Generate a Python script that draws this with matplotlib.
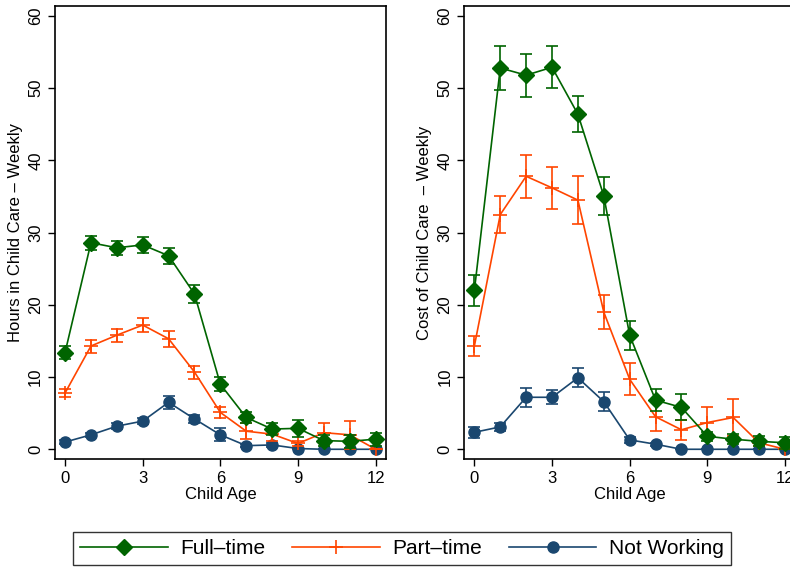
import matplotlib
matplotlib.use("Agg")
import matplotlib.pyplot as plt
from matplotlib.lines import Line2D

plt.rcParams['font.family'] = ['Liberation Sans', 'DejaVu Sans']

ages = list(range(13))

# Hours in child care, weekly (mean, ci half width)
hours_full = [13.4, 28.6, 27.9, 28.3, 26.8, 21.5, 9.0, 4.4, 2.8, 2.9, 1.2, 1.1, 1.4]
hours_full_err = [0.9, 1.0, 1.0, 1.1, 1.1, 1.2, 1.0, 0.8, 0.8, 1.2, 0.8, 0.9, 0.9]
hours_part = [7.8, 14.3, 15.8, 17.2, 15.3, 10.7, 5.1, 2.5, 2.1, 0.8, 2.3, 2.0, 0.0]
hours_part_err = [0.5, 0.9, 0.9, 1.0, 1.1, 0.9, 0.8, 1.1, 1.0, 0.4, 1.4, 1.9, 0.0]
hours_not = [1.0, 2.0, 3.2, 3.9, 6.5, 4.2, 2.0, 0.5, 0.6, 0.1, 0.0, 0.0, 0.0]
hours_not_err = [0.3, 0.3, 0.4, 0.4, 0.9, 0.6, 0.9, 0.2, 0.3, 0.1, 0.0, 0.0, 0.0]

# Cost of child care, weekly
cost_full = [22.0, 52.8, 51.8, 52.9, 46.4, 35.1, 15.8, 6.8, 5.8, 1.8, 1.4, 1.1, 0.9]
cost_full_err = [2.2, 3.0, 3.0, 2.9, 2.5, 2.6, 2.0, 1.5, 1.8, 0.6, 0.7, 0.7, 0.8]
cost_part = [14.3, 32.5, 37.8, 36.2, 34.5, 19.0, 9.7, 4.5, 2.7, 3.7, 4.4, 0.9, 0.0]
cost_part_err = [1.4, 2.6, 3.0, 2.9, 3.3, 2.4, 2.2, 2.0, 1.4, 2.1, 2.5, 0.5, 0.0]
cost_not = [2.35, 3.1, 7.2, 7.2, 9.9, 6.6, 1.3, 0.7, 0.0, 0.0, 0.0, 0.0, 0.0]
cost_not_err = [0.8, 0.6, 1.3, 1.0, 1.3, 1.3, 0.4, 0.2, 0.0, 0.0, 0.0, 0.0, 0.0]

green = '#006400'
orange = '#ff4500'
navy = '#1a476f'

fig = plt.figure(figsize=(7.9, 5.7), dpi=100)
ax1 = fig.add_axes([0.0696, 0.1947, 0.419, 0.795])
ax2 = fig.add_axes([0.5877, 0.1947, 0.419, 0.795])


def draw(ax, full, full_e, part, part_e, nw, nw_e, ylabel):
    ax.errorbar(ages, full, yerr=full_e, color=green, marker='D', markersize=8,
                lw=1.2, capsize=4, elinewidth=1.2, capthick=1.2, zorder=3)
    ax.errorbar(ages, part, yerr=part_e, color=orange, marker='+', markersize=10,
                markeredgewidth=1.2, lw=1.2, capsize=4, elinewidth=1.2, capthick=1.2,
                zorder=2)
    ax.errorbar(ages, nw, yerr=nw_e, color=navy, marker='o', markersize=8,
                lw=1.2, capsize=4, elinewidth=1.2, capthick=1.2, zorder=1)
    ax.set_xlim(-0.39, 12.4)
    ax.set_ylim(-1.35, 61.4)
    ax.set_xticks([0, 3, 6, 9, 12])
    ax.set_yticks(range(0, 61, 10))
    ax.tick_params(axis='both', direction='out', length=5, width=1, labelsize=12)
    for lab in ax.get_yticklabels():
        lab.set_rotation(90)
        lab.set_va('center')
    ax.set_xlabel('Child Age', fontsize=12, labelpad=1)
    ax.set_ylabel(ylabel, fontsize=12, labelpad=4)
    for sp in ax.spines.values():
        sp.set_linewidth(1.2)


draw(ax1, hours_full, hours_full_err, hours_part, hours_part_err, hours_not, hours_not_err,
     'Hours in Child Care \u2013 Weekly')
draw(ax2, cost_full, cost_full_err, cost_part, cost_part_err, cost_not, cost_not_err,
     'Cost of Child Care  \u2013 Weekly')

# legend: line + marker only, no error bars
handles = [
    Line2D([], [], color=green, marker='D', markersize=8, lw=1.2),
    Line2D([], [], color=orange, marker='+', markersize=10, markeredgewidth=1.2, lw=1.2),
    Line2D([], [], color=navy, marker='o', markersize=8, lw=1.2),
]
labels = ['Full\u2013time', 'Part\u2013time', 'Not Working']
leg = fig.legend(handles, labels, loc='center', ncol=3, mode='expand',
                 bbox_to_anchor=(0.0924, 0.0035, 0.833, 0.068), fontsize=15,
                 handlelength=4.2, handletextpad=0.6, frameon=True, fancybox=False,
                 edgecolor='black', borderaxespad=0, borderpad=0.35)
leg.get_frame().set_linewidth(1.0)

fig.savefig('out.png', dpi=100)
